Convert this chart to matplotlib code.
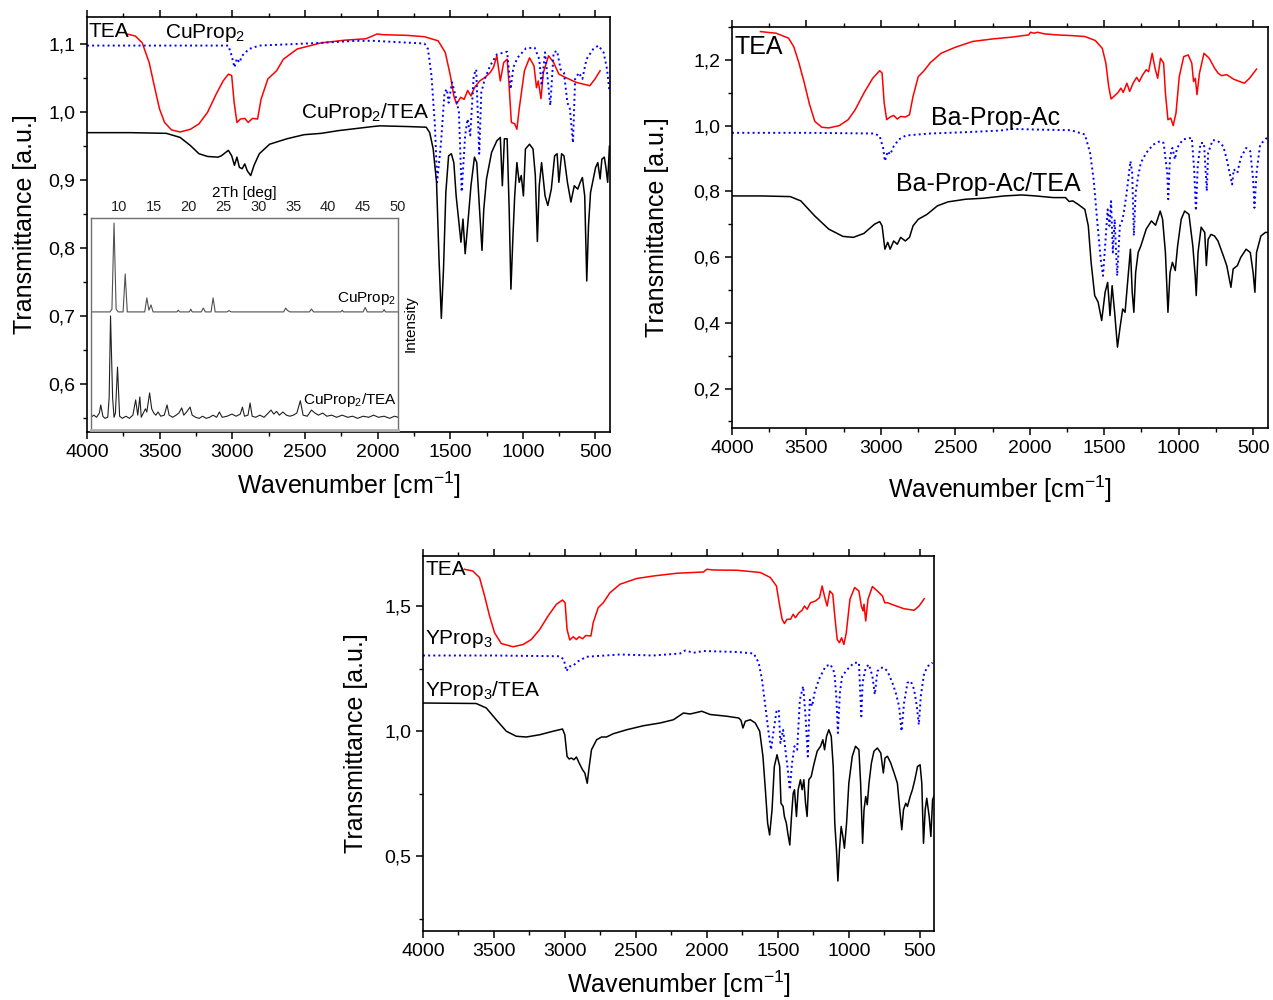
import matplotlib
matplotlib.use("Agg")
import matplotlib.pyplot as plt
from matplotlib.ticker import MultipleLocator, FuncFormatter

plt.rcParams['font.family'] = ['Liberation Sans', 'DejaVu Sans']
plt.rcParams['mathtext.default'] = 'regular'

# ---------------- Panel A (Cu) : (wavenumber, transmittance) ----------------
A_TEA = [(3726,1.115),(3667,1.112),(3620,1.102),(3572,1.073),(3537,1.039),(3501,1.005),(3466,0.985),
         (3418,0.974),(3359,0.971),(3288,0.975),(3229,0.983),(3170,1.0),(3110,1.027),(3063,1.046),
         (3027,1.056),(3004,1.054),(2987,1.014),(2968,0.985),(2944,0.990),(2914,0.991),(2890,0.985),
         (2861,0.991),(2826,0.990),(2802,1.019),(2755,1.049),(2695,1.061),(2648,1.078),(2553,1.093),
         (2387,1.102),(2222,1.106),(2080,1.108),(2004,1.115),(1961,1.114),(1795,1.113),(1677,1.111),
         (1583,1.105),(1534,1.088),(1499,1.054),(1475,1.024),(1456,1.012),(1428,1.022),(1404,1.019),
         (1380,1.032),(1357,1.024),(1333,1.036),(1297,1.046),(1262,1.051),(1226,1.058),(1202,1.066),
         (1179,1.083),(1155,1.046),(1132,1.073),(1108,1.078),(1096,1.044),(1079,0.985),(1056,0.983),
         (1041,0.975),(1025,1.005),(989,1.061),(954,1.080),(923,1.068),(906,1.036),(894,1.046),
         (875,1.020),(859,1.058),(823,1.083),(788,1.073),(752,1.056),(705,1.051),(634,1.044),
         (539,1.039),(503,1.049),(468,1.061)]
A_CUPROP = [(4000,1.098),(3500,1.098),(3027,1.098),(3004,1.083),(2985,1.066),(2968,1.079),(2951,1.073),
            (2932,1.083),(2885,1.093),(2814,1.098),(2387,1.102),(2150,1.105),(2032,1.105),(1677,1.101),
            (1653,1.093),(1629,1.054),(1605,0.980),(1590,0.897),(1563,0.956),(1539,1.029),(1523,1.034),
            (1511,1.014),(1487,1.044),(1463,1.024),(1440,1.0),(1421,0.883),(1397,0.966),(1380,0.990),
            (1362,0.966),(1338,1.054),(1321,1.063),(1300,0.939),(1286,1.029),(1262,1.049),(1226,1.068),
            (1179,1.085),(1108,1.089),(1084,1.034),(1065,1.066),(1037,1.080),(978,1.094),(919,1.095),
            (887,1.078),(871,1.039),(847,1.088),(811,1.010),(788,1.088),(764,1.090),(740,1.063),
            (717,1.058),(693,1.014),(676,1.005),(655,0.955),(640,1.049),(614,1.058),(590,1.049),
            (562,1.078),(515,1.093),(480,1.098),(444,1.088),(420,1.063),(404,1.030)]
A_CUPROP_TEA = [(4000,0.970),(3700,0.970),(3454,0.969),(3359,0.963),(3288,0.951),(3229,0.939),(3170,0.935),
                (3098,0.934),(3075,0.936),(3027,0.944),(3004,0.936),(2985,0.922),(2968,0.934),(2951,0.919),
                (2932,0.917),(2914,0.924),(2897,0.914),(2873,0.907),(2850,0.922),(2814,0.939),(2743,0.953),
                (2624,0.961),(2506,0.967),(2387,0.969),(2269,0.973),(2150,0.976),(2032,0.979),(1984,0.980),
                (1795,0.979),(1665,0.978),(1641,0.970),(1617,0.946),(1594,0.897),(1577,0.785),(1561,0.697),
                (1546,0.770),(1530,0.882),(1511,0.936),(1492,0.939),(1475,0.926),(1459,0.877),(1440,0.838),
                (1426,0.809),(1412,0.843),(1397,0.792),(1378,0.838),(1357,0.892),(1333,0.934),(1317,0.926),
                (1298,0.857),(1281,0.797),(1269,0.857),(1250,0.902),(1215,0.941),(1179,0.958),(1155,0.963),
                (1141,0.892),(1127,0.961),(1108,0.961),(1094,0.857),(1082,0.740),(1068,0.818),(1056,0.877),
                (1041,0.926),(1025,0.897),(1011,0.907),(996,0.877),(982,0.946),(954,0.953),(930,0.946),
                (914,0.907),(900,0.810),(887,0.892),(871,0.926),(847,0.877),(828,0.863),(804,0.887),
                (781,0.936),(764,0.939),(752,0.897),(733,0.939),(717,0.936),(693,0.897),(669,0.868),
                (646,0.892),(622,0.887),(605,0.897),(590,0.904),(574,0.877),(560,0.752),(548,0.833),
                (534,0.882),(515,0.902),(499,0.919),(484,0.926),(468,0.902),(456,0.931),(439,0.934),
                (427,0.917),(416,0.897),(404,0.950)]

# ---------------- Inset XRD : (2theta, intensity a.u.) ----------------
XRD_CUPROP = [(6,55.7),(8.7,55.7),(9.0,57),(9.3,97.6),(9.6,57),(9.9,55.7),(10.6,55.7),(10.9,73.6),(11.2,55.7),
              (13.7,55.7),(14.0,62.3),(14.3,56.5),(14.6,59),(14.9,55.7),(18.3,55.7),(18.5,56.5),(18.7,55.7),
              (20.1,55.7),(20.3,57),(20.5,55.7),(21.8,55.7),(22.1,57.5),(22.4,55.7),(23.2,55.7),(23.5,62.3),
              (23.8,55.7),(25.5,55.7),(25.8,56.3),(26.1,55.7),(33.6,55.7),(33.9,57.5),(34.2,56.3),(34.5,55.7),
              (37.3,55.7),(37.6,57),(37.9,55.7),(41.8,55.7),(42.0,56.5),(42.2,55.7),(45.0,55.7),(45.3,57.8),
              (45.6,55.7),(47.8,55.7),(48.0,56.8),(48.2,55.7),(50,55.7)]
XRD_CUPROP_TEA = [(6,6),(6.4,7),(6.8,6),(7.2,8),(7.4,11.8),(7.7,6.5),(8.0,5.5),(8.4,6),(8.6,15),(8.8,53.8),
                  (9.1,15),(9.3,6),(9.5,8),(9.8,29.7),(10.1,6.5),(10.5,5.5),(11,6.5),(11.5,5.5),(12.0,7),
                  (12.4,14.2),(12.7,7),(13.0,15.6),(13.2,6),(13.5,8),(13.8,10),(14.0,8.5),(14.4,17.5),(14.7,10),
                  (15.0,8),(15.3,7),(15.6,8.5),(16.0,6.5),(16.5,7),(16.9,11.8),(17.2,7),(17.7,6),(18.2,7),
                  (18.6,8),(19.0,10.4),(19.3,7),(19.7,8.5),(20.2,10.8),(20.5,7),(21.0,6),(21.5,5.5),(22,6.5),
                  (22.5,5.5),(23,6),(23.5,7),(24,6),(24.4,8.5),(24.8,6),(25.5,6.5),(26.2,7.5),(26.8,6.5),
                  (27.4,7.5),(27.7,10.8),(28.0,6.5),(28.5,7),(28.8,12.7),(29.1,6.5),(29.6,6),(30.2,7),(30.8,6),
                  (31.4,8),(31.8,9.4),(32.2,7.5),(32.6,8.8),(33.0,7),(33.5,8.5),(34,7),(34.5,6.5),(35.0,7),
                  (35.5,8),(36.0,13.8),(36.4,7),(37,6.5),(37.6,9.4),(38.1,8),(38.6,7),(39.2,8),(39.8,6.5),
                  (40.5,7),(41.2,6),(42,7),(42.8,6),(43.5,6.5),(44.2,5.5),(45,6.5),(45.8,6),(46.5,7),(47.2,6),
                  (48,6.5),(48.8,5.5),(49.5,6.5),(50,6)]

# ---------------- Panel B (Ba) ----------------
B_TEA = [(3809,1.286),(3703,1.281),(3620,1.266),(3585,1.240),(3550,1.190),(3514,1.129),(3479,1.064),
         (3444,1.013),(3397,0.995),(3350,0.993),(3279,1.0),(3220,1.018),(3173,1.048),(3114,1.099),
         (3055,1.144),(3008,1.167),(2992,1.160),(2978,1.069),(2961,1.018),(2938,1.026),(2914,1.031),
         (2890,1.020),(2867,1.028),(2836,1.026),(2808,1.033),(2784,1.089),(2749,1.149),(2714,1.165),
         (2667,1.192),(2596,1.220),(2502,1.238),(2384,1.256),(2243,1.264),(2125,1.269),(2007,1.276),
         (1995,1.284),(1972,1.281),(1948,1.284),(1901,1.279),(1819,1.276),(1724,1.274),(1630,1.271),
         (1560,1.259),(1513,1.235),(1489,1.190),(1470,1.119),(1454,1.081),(1430,1.091),(1407,1.101),
         (1388,1.114),(1372,1.101),(1348,1.129),(1329,1.104),(1306,1.129),(1282,1.147),(1265,1.134),
         (1242,1.154),(1218,1.170),(1202,1.164),(1178,1.220),(1159,1.175),(1141,1.144),(1122,1.205),
         (1101,1.190),(1089,1.099),(1072,1.018),(1053,1.023),(1037,1.0),(1018,1.038),(996,1.149),
         (966,1.210),(936,1.215),(912,1.190),(900,1.134),(888,1.144),(877,1.094),(860,1.160),(830,1.220),
         (795,1.205),(759,1.175),(736,1.160),(712,1.152),(677,1.155),(630,1.141),(559,1.129),(524,1.144),
         (477,1.172)]
B_BAPROP = [(4000,0.978),(3500,0.978),(3043,0.976),(3008,0.968),(2985,0.932),(2973,0.892),(2954,0.922),
            (2938,0.912),(2914,0.937),(2879,0.958),(2832,0.970),(2667,0.976),(2431,0.980),(2196,0.985),
            (2125,0.990),(1960,0.988),(1724,0.986),(1630,0.973),(1595,0.917),(1571,0.836),(1548,0.715),
            (1524,0.594),(1508,0.543),(1494,0.634),(1477,0.745),(1465,0.695),(1454,0.770),(1442,0.614),
            (1430,0.715),(1413,0.543),(1395,0.695),(1376,0.715),(1352,0.786),(1336,0.846),(1324,0.892),
            (1312,0.856),(1301,0.665),(1289,0.796),(1272,0.846),(1254,0.887),(1218,0.917),(1171,0.942),
            (1124,0.953),(1101,0.947),(1077,0.856),(1070,0.776),(1058,0.907),(1042,0.932),(1025,0.897),
            (1011,0.932),(971,0.958),(912,0.963),(896,0.867),(884,0.741),(872,0.877),(853,0.947),
            (830,0.947),(818,0.856),(811,0.801),(802,0.917),(771,0.956),(736,0.953),(700,0.937),
            (677,0.897),(653,0.846),(641,0.821),(630,0.867),(606,0.856),(583,0.902),(547,0.932),
            (519,0.922),(500,0.836),(491,0.750),(477,0.856),(453,0.942),(418,0.958),(402,0.966)]
B_BAPROP_TEA = [(4000,0.786),(3800,0.786),(3609,0.784),(3538,0.771),(3444,0.725),(3350,0.685),(3255,0.663),
                (3185,0.660),(3114,0.672),(3043,0.700),(3008,0.708),(2992,0.695),(2973,0.624),(2954,0.645),
                (2938,0.624),(2914,0.649),(2890,0.639),(2867,0.660),(2836,0.649),(2808,0.660),(2784,0.695),
                (2749,0.715),(2690,0.730),(2620,0.756),(2549,0.768),(2431,0.776),(2313,0.779),(2172,0.786),
                (2054,0.789),(1960,0.786),(1842,0.781),(1760,0.781),(1736,0.769),(1712,0.771),(1677,0.761),
                (1630,0.745),(1607,0.695),(1588,0.584),(1564,0.483),(1541,0.463),(1517,0.407),(1494,0.493),
                (1477,0.523),(1461,0.422),(1447,0.513),(1430,0.432),(1411,0.326),(1395,0.382),(1376,0.442),
                (1360,0.432),(1343,0.523),(1324,0.624),(1312,0.493),(1301,0.432),(1289,0.553),(1272,0.614),
                (1254,0.634),(1218,0.685),(1183,0.710),(1155,0.697),(1124,0.740),(1108,0.715),(1089,0.614),
                (1072,0.432),(1058,0.553),(1042,0.584),(1023,0.559),(1007,0.634),(983,0.715),(960,0.740),
                (931,0.730),(905,0.634),(889,0.543),(882,0.483),(870,0.614),(849,0.691),(825,0.675),
                (814,0.574),(802,0.654),(783,0.669),(759,0.664),(736,0.649),(700,0.604),(677,0.574),
                (649,0.508),(634,0.564),(606,0.574),(583,0.599),(547,0.624),(519,0.614),(500,0.553),
                (488,0.493),(477,0.614),(448,0.664),(418,0.675),(402,0.675)]

# ---------------- Panel C (Y) ----------------
C_TEA = [(3708,1.647),(3649,1.640),(3602,1.614),(3566,1.540),(3531,1.460),(3496,1.393),(3449,1.350),
         (3366,1.337),(3295,1.346),(3237,1.366),(3178,1.406),(3119,1.460),(3060,1.507),(3017,1.524),
         (2999,1.513),(2985,1.406),(2966,1.364),(2942,1.377),(2919,1.366),(2900,1.377),(2876,1.369),
         (2853,1.382),(2817,1.380),(2801,1.433),(2766,1.493),(2730,1.513),(2683,1.553),(2612,1.587),
         (2495,1.610),(2377,1.620),(2212,1.631),(2024,1.636),(2000,1.647),(1953,1.644),(1788,1.643),
         (1623,1.634),(1553,1.614),(1510,1.580),(1487,1.5),(1470,1.447),(1454,1.430),(1435,1.447),
         (1411,1.447),(1392,1.467),(1376,1.453),(1352,1.473),(1329,1.483),(1313,1.5),(1294,1.487),
         (1270,1.513),(1235,1.520),(1207,1.533),(1188,1.580),(1172,1.540),(1153,1.5),(1134,1.560),
         (1113,1.547),(1099,1.460),(1082,1.366),(1066,1.353),(1051,1.373),(1035,1.346),(1018,1.393),
         (992,1.527),(959,1.574),(929,1.560),(912,1.5),(900,1.480),(893,1.507),(881,1.440),(865,1.527),
         (834,1.578),(799,1.560),(763,1.540),(747,1.513),(728,1.513),(681,1.503),(611,1.489),(540,1.483),
         (505,1.5),(469,1.529)]
C_YPROP = [(4000,1.302),(3500,1.302),(3036,1.299),(3008,1.286),(2989,1.239),(2970,1.259),(2947,1.259),
           (2907,1.279),(2848,1.297),(2612,1.306),(2377,1.302),(2189,1.310),(2153,1.322),(2094,1.313),
           (2024,1.320),(1788,1.316),(1670,1.310),(1635,1.273),(1612,1.206),(1588,1.099),(1565,0.992),
           (1548,0.925),(1529,1.005),(1510,1.078),(1494,1.086),(1482,0.952),(1463,1.005),(1447,0.925),
           (1430,0.845),(1416,0.765),(1400,0.872),(1383,0.939),(1364,0.925),(1345,1.125),(1322,1.179),
           (1305,1.059),(1289,0.898),(1275,1.125),(1258,1.099),(1242,1.152),(1211,1.206),(1164,1.259),
           (1129,1.266),(1101,1.233),(1087,1.125),(1077,0.992),(1063,1.152),(1047,1.219),(1011,1.246),
           (964,1.273),(929,1.273),(912,1.059),(903,1.193),(881,1.253),(858,1.266),(834,1.219),
           (817,1.146),(799,1.239),(775,1.253),(752,1.253),(728,1.239),(693,1.193),(669,1.152),
           (646,1.099),(629,0.999),(611,1.112),(587,1.193),(563,1.199),(540,1.166),(521,1.099),
           (507,1.025),(493,1.139),(469,1.233),(434,1.266),(410,1.273)]
C_YPROP_TEA = [(4000,1.112),(3625,1.110),(3554,1.092),(3484,1.045),(3413,0.999),(3343,0.979),(3272,0.976),
               (3178,0.985),(3084,0.999),(3017,1.008),(3001,0.985),(2985,0.898),(2970,0.888),(2954,0.892),
               (2937,0.885),(2919,0.896),(2900,0.872),(2876,0.845),(2860,0.832),(2843,0.791),(2829,0.858),
               (2813,0.925),(2777,0.965),(2742,0.976),(2707,0.976),(2660,0.989),(2565,1.005),(2448,1.021),
               (2330,1.032),(2236,1.045),(2165,1.072),(2118,1.068),(2036,1.079),(1977,1.066),(1859,1.059),
               (1776,1.052),(1760,1.043),(1746,1.012),(1729,1.039),(1694,1.045),(1659,1.032),(1628,0.999),
               (1605,0.898),(1588,0.765),(1572,0.631),(1558,0.584),(1541,0.685),(1525,0.858),(1506,0.905),
               (1487,0.858),(1478,0.711),(1463,0.698),(1454,0.658),(1440,0.631),(1430,0.591),(1416,0.544),
               (1404,0.658),(1392,0.751),(1383,0.765),(1369,0.658),(1357,0.765),(1341,0.805),(1329,0.765),
               (1317,0.805),(1305,0.711),(1294,0.658),(1282,0.805),(1265,0.818),(1247,0.865),(1223,0.919),
               (1199,0.939),(1183,0.965),(1171,0.925),(1157,0.979),(1141,1.005),(1124,0.979),(1110,0.858),
               (1099,0.631),(1087,0.524),(1077,0.400),(1066,0.524),(1054,0.618),(1042,0.578),(1031,0.531),
               (1016,0.631),(1000,0.791),(976,0.898),(953,0.939),(929,0.925),(917,0.791),(903,0.551),
               (893,0.685),(881,0.738),(870,0.705),(858,0.791),(841,0.872),(823,0.919),(799,0.932),
               (775,0.912),(757,0.832),(745,0.892),(728,0.899),(705,0.872),(681,0.832),(658,0.791),
               (641,0.685),(627,0.605),(615,0.685),(599,0.711),(587,0.698),(568,0.738),(552,0.765),
               (535,0.805),(516,0.858),(498,0.865),(486,0.791),(474,0.551),(462,0.685),(451,0.731),
               (434,0.658),(422,0.578),(410,0.725),(400,0.740)]

X_TICKS = [4000, 3500, 3000, 2500, 2000, 1500, 1000, 500]
XRD_TICKS = [10, 15, 20, 25, 30, 35, 40, 45, 50]

RED = '#ff0000'
BLUE = '#0000ff'
BLACK = '#000000'


def unzip(pairs):
    return [p[0] for p in pairs], [p[1] for p in pairs]


comma = FuncFormatter(lambda v, pos: f"{v:.1f}".replace('.', ','))


def style_axes(ax, ylim, ymaj, ymin, xpad, ypad):
    ax.set_xlim(4000, 400)
    ax.set_ylim(*ylim)
    ax.set_xticks(X_TICKS)
    ax.xaxis.set_minor_locator(MultipleLocator(250))
    ax.yaxis.set_major_locator(MultipleLocator(ymaj))
    ax.yaxis.set_minor_locator(MultipleLocator(ymin))
    ax.yaxis.set_major_formatter(comma)
    ax.tick_params(axis='both', which='major', direction='out', length=5, width=1.1,
                   labelsize=14, top=True, right=False)
    ax.tick_params(axis='both', which='minor', direction='out', length=3, width=1.0,
                   top=True, right=False)
    for s in ax.spines.values():
        s.set_linewidth(1.2)
    ax.set_xlabel('Wavenumber [cm$^{-1}$]', fontsize=18, labelpad=xpad)
    ax.set_ylabel('Transmittance [a.u.]', fontsize=18, labelpad=ypad)


fig = plt.figure(figsize=(12.73, 10), dpi=100)

# ---------------- Panel A ----------------
axA = fig.add_axes([87/1273, 1-432/1000, 523/1273, 415/1000])
for data, col, ls, lw in [(A_TEA, RED, '-', 1.1), (A_CUPROP, BLUE, ':', 1.4), (A_CUPROP_TEA, BLACK, '-', 1.1)]:
    x, y = unzip(data)
    axA.plot(x, y, color=col, ls=ls, lw=lw)
style_axes(axA, (0.53, 1.14), 0.1, 0.05, 6, 8)
axA.text(3990, 1.118, 'TEA', fontsize=15, va='center', ha='left')
axA.text(3460, 1.116, 'CuProp$_2$', fontsize=15, va='center', ha='left')
axA.text(2525, 0.999, 'CuProp$_2$/TEA', fontsize=15, va='center', ha='left')

# inset
axI = fig.add_axes([91/1273, 1-430/1000, 307/1273, 212/1000])
axI.set_facecolor('white')
x, y = unzip(XRD_CUPROP)
axI.plot(x, y, color='#505050', lw=0.8)
x, y = unzip(XRD_CUPROP_TEA)
axI.plot(x, y, color='#202020', lw=0.8)
axI.set_xlim(6, 50)
axI.set_ylim(0, 100)
axI.set_xticks(XRD_TICKS)
axI.set_yticks([])
axI.xaxis.tick_top()
axI.xaxis.set_label_position('top')
axI.tick_params(axis='x', direction='in', length=0, labelsize=10.5, pad=3, colors='#222222')
axI.set_xlabel('2Th [deg]', fontsize=11, labelpad=2)
axI.yaxis.set_label_position('right')
axI.set_ylabel('Intensity', fontsize=11, labelpad=4)
for s in axI.spines.values():
    s.set_color('#707070')
    s.set_linewidth(1.0)
axI.spines['bottom'].set_linewidth(2.0)
axI.spines['bottom'].set_color('#b0b0b0')
axI.text(49.7, 62, 'CuProp$_2$', fontsize=11, ha='right', va='center')
axI.text(49.9, 14, 'CuProp$_2$/TEA', fontsize=11, ha='right', va='center')

# ---------------- Panel B ----------------
axB = fig.add_axes([732/1273, 1-428/1000, 536/1273, 401/1000])
for data, col, ls, lw in [(B_TEA, RED, '-', 1.1), (B_BAPROP, BLUE, ':', 1.4), (B_BAPROP_TEA, BLACK, '-', 1.1)]:
    x, y = unzip(data)
    axB.plot(x, y, color=col, ls=ls, lw=lw)
style_axes(axB, (0.08, 1.3), 0.2, 0.1, 12, 17)
axB.text(3985, 1.24, 'TEA', fontsize=18, va='center', ha='left')
axB.text(2663, 1.024, 'Ba-Prop-Ac', fontsize=18, va='center', ha='left')
axB.text(2898, 0.823, 'Ba-Prop-Ac/TEA', fontsize=18, va='center', ha='left')

# ---------------- Panel C ----------------
axC = fig.add_axes([423/1273, 1-931/1000, 511/1273, 375/1000])
for data, col, ls, lw in [(C_TEA, RED, '-', 1.1), (C_YPROP, BLUE, ':', 1.4), (C_YPROP_TEA, BLACK, '-', 1.1)]:
    x, y = unzip(data)
    axC.plot(x, y, color=col, ls=ls, lw=lw)
style_axes(axC, (0.2, 1.7), 0.5, 0.25, 6, 12)
axC.text(3985, 1.645, 'TEA', fontsize=15, va='center', ha='left')
axC.text(3985, 1.37, 'YProp$_3$', fontsize=15, va='center', ha='left')
axC.text(3985, 1.16, 'YProp$_3$/TEA', fontsize=15, va='center', ha='left')

fig.savefig('out.png', dpi=100)
